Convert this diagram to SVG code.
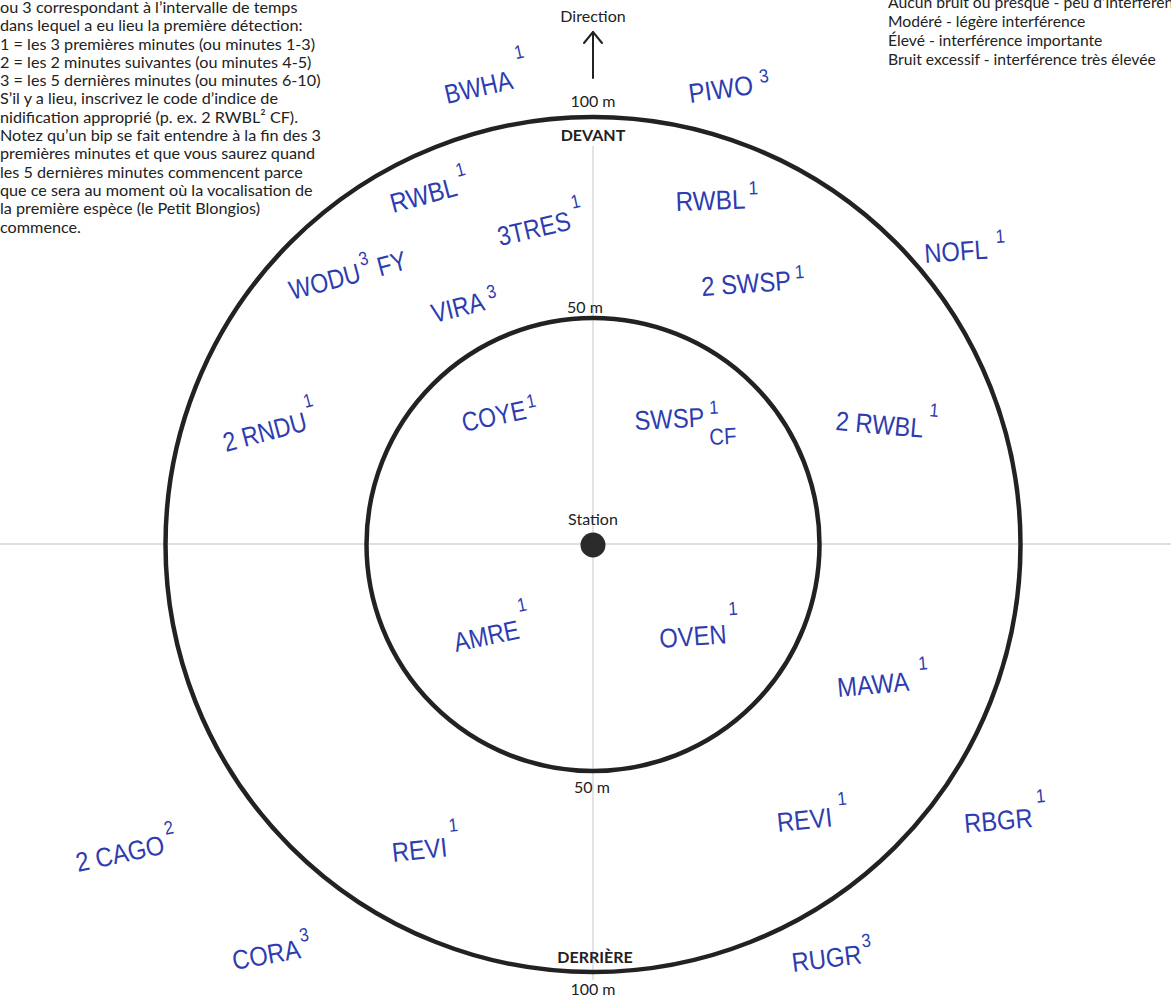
<svg xmlns="http://www.w3.org/2000/svg" width="1171" height="997" viewBox="0 0 1171 997">
<style>
.bg{fill:#ffffff}
.ring{fill:none;stroke:#222222;stroke-width:4.5}
.axis{stroke:#d4d4d4;stroke-width:1.3}
.info{font-family:Lato,"Liberation Sans",sans-serif;font-size:15.7px;fill:#222222}
.wide{font-size:16.2px}
.lbl{font-family:Lato,"Liberation Sans",sans-serif;font-size:16px;fill:#222222;text-anchor:middle}
.bold{font-weight:bold}
.hw{font-family:"Liberation Sans",Arial,sans-serif;font-size:27px;fill:#2d3caf}
.sup{font-size:19px}
.arrow{fill:none;stroke:#222222;stroke-width:2;stroke-linecap:round;stroke-linejoin:round}
</style>
<rect class="bg" x="0" y="0" width="1171" height="997"/>

<g id="instructions">
<text class="info wide" x="0" y="13">ou 3 correspondant à l’intervalle de temps</text>
<text class="info wide" x="0" y="31.2">dans lequel a eu lieu la première détection:</text>
<text class="info wide" x="0" y="49.5">1 = les 3 premières minutes (ou minutes 1-3)</text>
<text class="info wide" x="0" y="67.8">2 = les 2 minutes suivantes (ou minutes 4-5)</text>
<text class="info wide" x="0" y="86.1">3 = les 5 dernières minutes (ou minutes 6-10)</text>
<text class="info wide" x="0" y="104.4">S’il y a lieu, inscrivez le code d’indice de</text>
<text class="info wide" x="0" y="122.7">nidification approprié (p. ex. 2 RWBL² CF).</text>
<text class="info wide" x="0" y="141">Notez qu’un bip se fait entendre à la fin des 3</text>
<text class="info wide" x="0" y="159.3">premières minutes et que vous saurez quand</text>
<text class="info wide" x="0" y="177.6">les 5 dernières minutes commencent parce</text>
<text class="info wide" x="0" y="195.9">que ce sera au moment où la vocalisation de</text>
<text class="info wide" x="0" y="214.2">la première espèce (le Petit Blongios)</text>
<text class="info wide" x="0" y="232.5">commence.</text>
</g>

<g id="noise-legend">
<text class="info" x="888" y="8">Aucun bruit ou presque - peu d’interférence</text>
<text class="info" x="888" y="27">Modéré - légère interférence</text>
<text class="info" x="888" y="46">Élevé - interférence importante</text>
<text class="info" x="888" y="65">Bruit excessif - interférence très élevée</text>
</g>

<g id="axes">
<line class="axis" x1="0" y1="544" x2="1171" y2="544"/>
<line class="axis" x1="593" y1="146" x2="593" y2="980"/>
</g>

<g id="outer-ring">
<circle class="ring" cx="593" cy="544.5" r="427.5"/>
<text class="lbl" x="593" y="107">100 m</text>
<text class="lbl bold" x="593" y="141">DEVANT</text>
<text class="lbl bold" x="595" y="963">DERRIÈRE</text>
<text class="lbl" x="593" y="995">100 m</text>
</g>

<g id="inner-ring">
<circle class="ring" cx="593" cy="544.5" r="226.5"/>
<text class="lbl" x="585" y="313">50 m</text>
<text class="lbl" x="592" y="793">50 m</text>
</g>

<g id="station">
<circle cx="593" cy="545" r="12.5" fill="#2a2a2a"/>
<text class="lbl" x="593" y="525">Station</text>
</g>

<g id="connectors">
<text class="lbl" x="593" y="22">Direction</text>
<line class="arrow" x1="593" y1="78" x2="593" y2="32"/>
<polyline class="arrow" points="584,43 593,32 602,43"/>
</g>

<g id="observations">
<g id="obs-bwha" transform="translate(447 104) rotate(-13)"><text class="hw" transform="scale(0.85 1)">BWHA<tspan class="sup" dx="10" dy="-28">1</tspan></text></g>
<g id="obs-piwo" transform="translate(690 103) rotate(-8)"><text class="hw" transform="scale(0.9 1)">PIWO<tspan class="sup" dx="8" dy="-10">3</tspan></text></g>
<g id="obs-rwbl-a" transform="translate(393 213) rotate(-15)"><text class="hw" transform="scale(0.88 1)">RWBL<tspan class="sup" dx="4" dy="-18">1</tspan></text></g>
<g id="obs-3tres" transform="translate(500 246) rotate(-13)"><text class="hw" transform="scale(0.85 1)">3TRES<tspan class="sup" dx="6" dy="-20">1</tspan></text></g>
<g id="obs-rwbl-b" transform="translate(676 211) rotate(-2)"><text class="hw" transform="scale(0.9 1)">RWBL<tspan class="sup" dx="4" dy="-14">1</tspan></text></g>
<g id="obs-wodu" transform="translate(292 300) rotate(-15)"><text class="hw" transform="scale(0.85 1)">WODU<tspan class="sup" dx="3" dy="-15">3</tspan><tspan dx="8" dy="15">FY</tspan></text></g>
<g id="obs-vira" transform="translate(434 323) rotate(-14)"><text class="hw" transform="scale(0.85 1)">VIRA<tspan class="sup" dx="6" dy="-10">3</tspan></text></g>
<g id="obs-2swsp" transform="translate(702 296) rotate(-4)"><text class="hw" transform="scale(0.88 1)">2 SWSP<tspan class="sup" dx="5" dy="-11">1</tspan></text></g>
<g id="obs-nofl" transform="translate(925 263) rotate(-4)"><text class="hw" transform="scale(0.88 1)">NOFL<tspan class="sup" dx="10" dy="-15">1</tspan></text></g>
<g id="obs-2rndu" transform="translate(226 452) rotate(-15)"><text class="hw" transform="scale(0.85 1)">2 RNDU<tspan class="sup" dx="3" dy="-22">1</tspan></text></g>
<g id="obs-coye" transform="translate(464 432) rotate(-12)"><text class="hw" transform="scale(0.85 1)">COYE<tspan class="sup" dx="3" dy="-10">1</tspan></text></g>
<g id="obs-swsp" transform="translate(635 430) rotate(-3)"><text class="hw" transform="scale(0.88 1)">SWSP<tspan class="sup" dx="6" dy="-12">1</tspan><tspan dx="-12" dy="31" style="font-size:23px">CF</tspan></text></g>
<g id="obs-2rwbl" transform="translate(835 430) rotate(5)"><text class="hw" transform="scale(0.88 1)">2 RWBL<tspan class="sup" dx="5" dy="-22">1</tspan></text></g>
<g id="obs-amre" transform="translate(456 652) rotate(-12)"><text class="hw" transform="scale(0.85 1)">AMRE<tspan class="sup" dx="4" dy="-26">1</tspan></text></g>
<g id="obs-oven" transform="translate(660 648) rotate(-4)"><text class="hw" transform="scale(0.88 1)">OVEN<tspan class="sup" dx="4" dy="-28">1</tspan></text></g>
<g id="obs-mawa" transform="translate(838 697) rotate(-5)"><text class="hw" transform="scale(0.88 1)">MAWA<tspan class="sup" dx="12" dy="-20">1</tspan></text></g>
<g id="obs-revi-a" transform="translate(778 832) rotate(-6)"><text class="hw" transform="scale(0.88 1)">REVI<tspan class="sup" dx="8" dy="-20">1</tspan></text></g>
<g id="obs-rbgr" transform="translate(965 833) rotate(-5)"><text class="hw" transform="scale(0.88 1)">RBGR<tspan class="sup" dx="6" dy="-24">1</tspan></text></g>
<g id="obs-2cago" transform="translate(78 872) rotate(-12)"><text class="hw" transform="scale(0.88 1)">2 CAGO<tspan class="sup" dx="4" dy="-18">2</tspan></text></g>
<g id="obs-revi-b" transform="translate(393 862) rotate(-6)"><text class="hw" transform="scale(0.88 1)">REVI<tspan class="sup" dx="4" dy="-24">1</tspan></text></g>
<g id="obs-cora" transform="translate(234 970) rotate(-10)"><text class="hw" transform="scale(0.88 1)">CORA<tspan class="sup" dx="2" dy="-16">3</tspan></text></g>
<g id="obs-rugr" transform="translate(793 972) rotate(-7)"><text class="hw" transform="scale(0.88 1)">RUGR<tspan class="sup" dx="2" dy="-16">3</tspan></text></g>
</g>
</svg>
